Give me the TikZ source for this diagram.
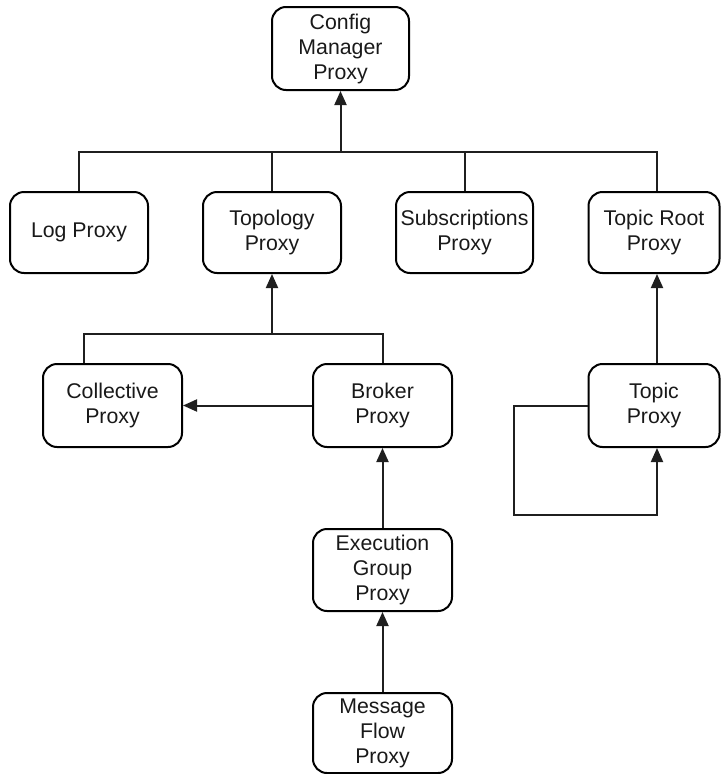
\documentclass[tikz,border=0pt]{standalone}
\usepackage{fontspec}
\setmainfont{Liberation Sans}
\usetikzlibrary{arrows.meta}
\begin{document}
\begin{tikzpicture}[x=1pt,y=-1pt,
  box/.style={draw, line width=2pt, rounded corners=14pt, align=center,
    font=\fontsize{21.3}{25}\selectfont, inner sep=0pt, text=black!90},
  conn/.style={line width=2pt, draw=black!88},
  arr/.style={conn, -{Triangle[length=14pt,width=12pt]}}]
\useasboundingbox (0,0) rectangle (721,774);
\node[box, minimum width=137pt, minimum height=83pt] (cfg) at (340.5,48.5) {Config\\Manager\\Proxy};
\node[box, minimum width=138pt, minimum height=81pt] (log) at (79,232.5) {Log Proxy};
\node[box, minimum width=138pt, minimum height=81pt] (top) at (272,232.5) {Topology\\Proxy};
\node[box, minimum width=137pt, minimum height=81pt] (sub) at (464.5,232.5) {Subscriptions\\Proxy};
\node[box, minimum width=131pt, minimum height=81pt] (tr) at (654,232.5) {Topic Root\\Proxy};
\node[box, minimum width=139pt, minimum height=83pt] (col) at (112.5,405.5) {Collective\\Proxy};
\node[box, minimum width=139pt, minimum height=83pt] (brk) at (382.5,405.5) {Broker\\Proxy};
\node[box, minimum width=131pt, minimum height=83pt] (tp) at (654,405.5) {Topic\\Proxy};
\node[box, minimum width=139pt, minimum height=82pt] (exe) at (382.5,570) {Execution\\Group\\Proxy};
\node[box, minimum width=139pt, minimum height=80pt] (msg) at (382.5,733) {Message\\Flow\\Proxy};
\coordinate (bus) at (340.5,152);
\coordinate (bus2) at (272,334);
\coordinate (lp) at (514,405.5);
\coordinate (lq) at (514,515);
% top bus
\draw[arr] (bus) -- (cfg.south);
\draw[conn] (log.north) |- (bus) -| ([xshift=3pt]tr.north);
\draw[conn] (top.north) -- (top.north |- bus);
\draw[conn] (sub.north) -- (sub.north |- bus);
% second bus
\draw[arr] (bus2) -- (top.south);
\draw[conn] ([xshift=-29pt]col.north) |- (bus2) -| (brk.north);
\draw[arr] (brk.west) -- (col.east);
% topic
\draw[arr] ([xshift=3pt]tp.north) -- ([xshift=3pt]tr.south);
\draw[arr] (tp.west) -- (lp) -- (lq) -| ([xshift=3pt]tp.south);
% chain
\draw[arr] (exe.north) -- (brk.south);
\draw[arr] (msg.north) -- (exe.south);
\end{tikzpicture}
\end{document}
